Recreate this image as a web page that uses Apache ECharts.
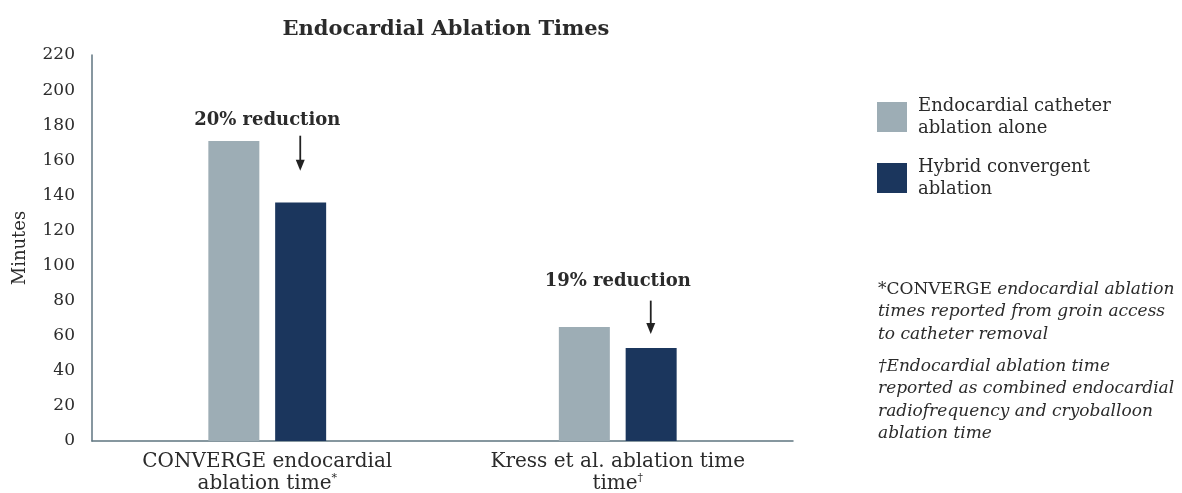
<!DOCTYPE html>
<html>
<head>
<meta charset="utf-8">
<script src="https://cdn.jsdelivr.net/npm/echarts@6/dist/echarts.min.js"></script>
<style>
  html, body { margin: 0; padding: 0; background: #fff; }
  #chart { width: 1182px; height: 493px; }
</style>
</head>
<body>
<div id="chart"></div>
<script>
// data
var categories = ['CONVERGE endocardial\nablation time{sup|*}', 'Kress et al. ablation time\ntime{sup|†}'];
var seriesNames = ['Endocardial catheter\nablation alone', 'Hybrid convergent\nablation'];
var endoOnly = [171, 65];
var hybrid = [136, 53];
var reductions = ['20% reduction', '19% reduction'];
// annotation heights (axis units): label, arrow start, arrow tip
var labelAt = [183, 91];
var arrowFrom = [174, 80];
var arrowTo = [154, 61];

var FONT = 'DejaVu Serif';
var TEXT = '#2b2b2b';
var AXIS = '#5f7580';

var chart = echarts.init(document.getElementById('chart'));

var option = {
    backgroundColor: '#fff',
    animation: false,
    title: {
        text: 'Endocardial Ablation Times',
        left: 441,
        textAlign: 'center',
        top: 14,
        textStyle: { fontFamily: FONT, fontSize: 21, fontWeight: 'bold', color: TEXT }
    },
    legend: {
        orient: 'vertical',
        left: 877,
        top: 95,
        padding: 0,
        itemWidth: 30,
        itemHeight: 30,
        itemGap: 17,
        icon: 'rect',
        data: seriesNames,
        textStyle: { fontFamily: FONT, fontSize: 18, color: TEXT, lineHeight: 22, padding: [0, 0, 0, 6] }
    },
    grid: { left: 92, right: 389, top: 55, bottom: 52, outerBoundsMode: 'none' },
    xAxis: {
        type: 'category',
        data: categories,
        axisLine: { lineStyle: { color: AXIS, width: 1.5 } },
        axisTick: { show: false },
        axisLabel: {
            margin: 10,
            fontFamily: FONT,
            fontSize: 20,
            color: TEXT,
            lineHeight: 22,
            rich: {
                sup: { fontFamily: FONT, fontSize: 11, color: TEXT, verticalAlign: 'top', lineHeight: 22 }
            }
        }
    },
    yAxis: {
        type: 'value',
        min: 0,
        max: 220,
        interval: 20,
        name: 'Minutes',
        nameLocation: 'middle',
        nameGap: 63,
        nameTextStyle: { fontFamily: FONT, fontSize: 18, color: TEXT },
        axisLine: { show: true, lineStyle: { color: AXIS, width: 1.5 } },
        axisTick: { show: false },
        splitLine: { show: false },
        axisLabel: { margin: 17, fontFamily: FONT, fontSize: 17, color: TEXT }
    },
    series: [
        {
            name: seriesNames[0],
            type: 'bar',
            data: endoOnly,
            barWidth: 51,
            barGap: '31%',
            itemStyle: { color: '#9dadb5' }
        },
        {
            name: seriesNames[1],
            type: 'bar',
            data: hybrid,
            barWidth: 51,
            itemStyle: { color: '#1b365d' }
        }
    ]
};
chart.setOption(option);

// annotations: reduction labels with arrows above the hybrid bars
var graphics = [];
hybrid.forEach(function (v, i) {
    var c = chart.convertToPixel({ xAxisIndex: 0 }, i);
    var x = c + 33;   // centre of the navy bar
    var y1 = chart.convertToPixel({ yAxisIndex: 0 }, arrowFrom[i]);
    var y2 = chart.convertToPixel({ yAxisIndex: 0 }, arrowTo[i]);
    var yl = chart.convertToPixel({ yAxisIndex: 0 }, labelAt[i]);
    graphics.push({
        type: 'line',
        shape: { x1: x, y1: y1, x2: x, y2: y2 - 8 },
        style: { stroke: '#222', lineWidth: 1.8 }
    });
    graphics.push({
        type: 'polygon',
        shape: { points: [[x - 4.5, y2 - 11], [x + 4.5, y2 - 11], [x, y2]] },
        style: { fill: '#222' }
    });
    graphics.push({
        type: 'text',
        x: c,
        y: yl,
        style: {
            text: reductions[i],
            fontFamily: FONT, fontSize: 18, fontWeight: 'bold', fill: TEXT,
            textAlign: 'center', textVerticalAlign: 'middle'
        }
    });
});

// footnotes
graphics.push({
    type: 'text',
    left: 878,
    top: 278,
    style: {
        text: '{u|*CONVERGE} endocardial ablation\ntimes reported from groin access\nto catheter removal',
        fontFamily: FONT, fontSize: 17, fontStyle: 'italic', fill: TEXT, lineHeight: 22.5,
        rich: { u: { fontFamily: FONT, fontSize: 17, fontStyle: 'normal', fill: TEXT, lineHeight: 22.5 } }
    }
});
graphics.push({
    type: 'text',
    left: 878,
    top: 355,
    style: {
        text: '†Endocardial ablation time\nreported as combined endocardial\nradiofrequency and cryoballoon\nablation time',
        fontFamily: FONT, fontSize: 17, fontStyle: 'italic', fill: TEXT, lineHeight: 22.5
    }
});

chart.setOption({ graphic: graphics });
</script>
</body>
</html>
